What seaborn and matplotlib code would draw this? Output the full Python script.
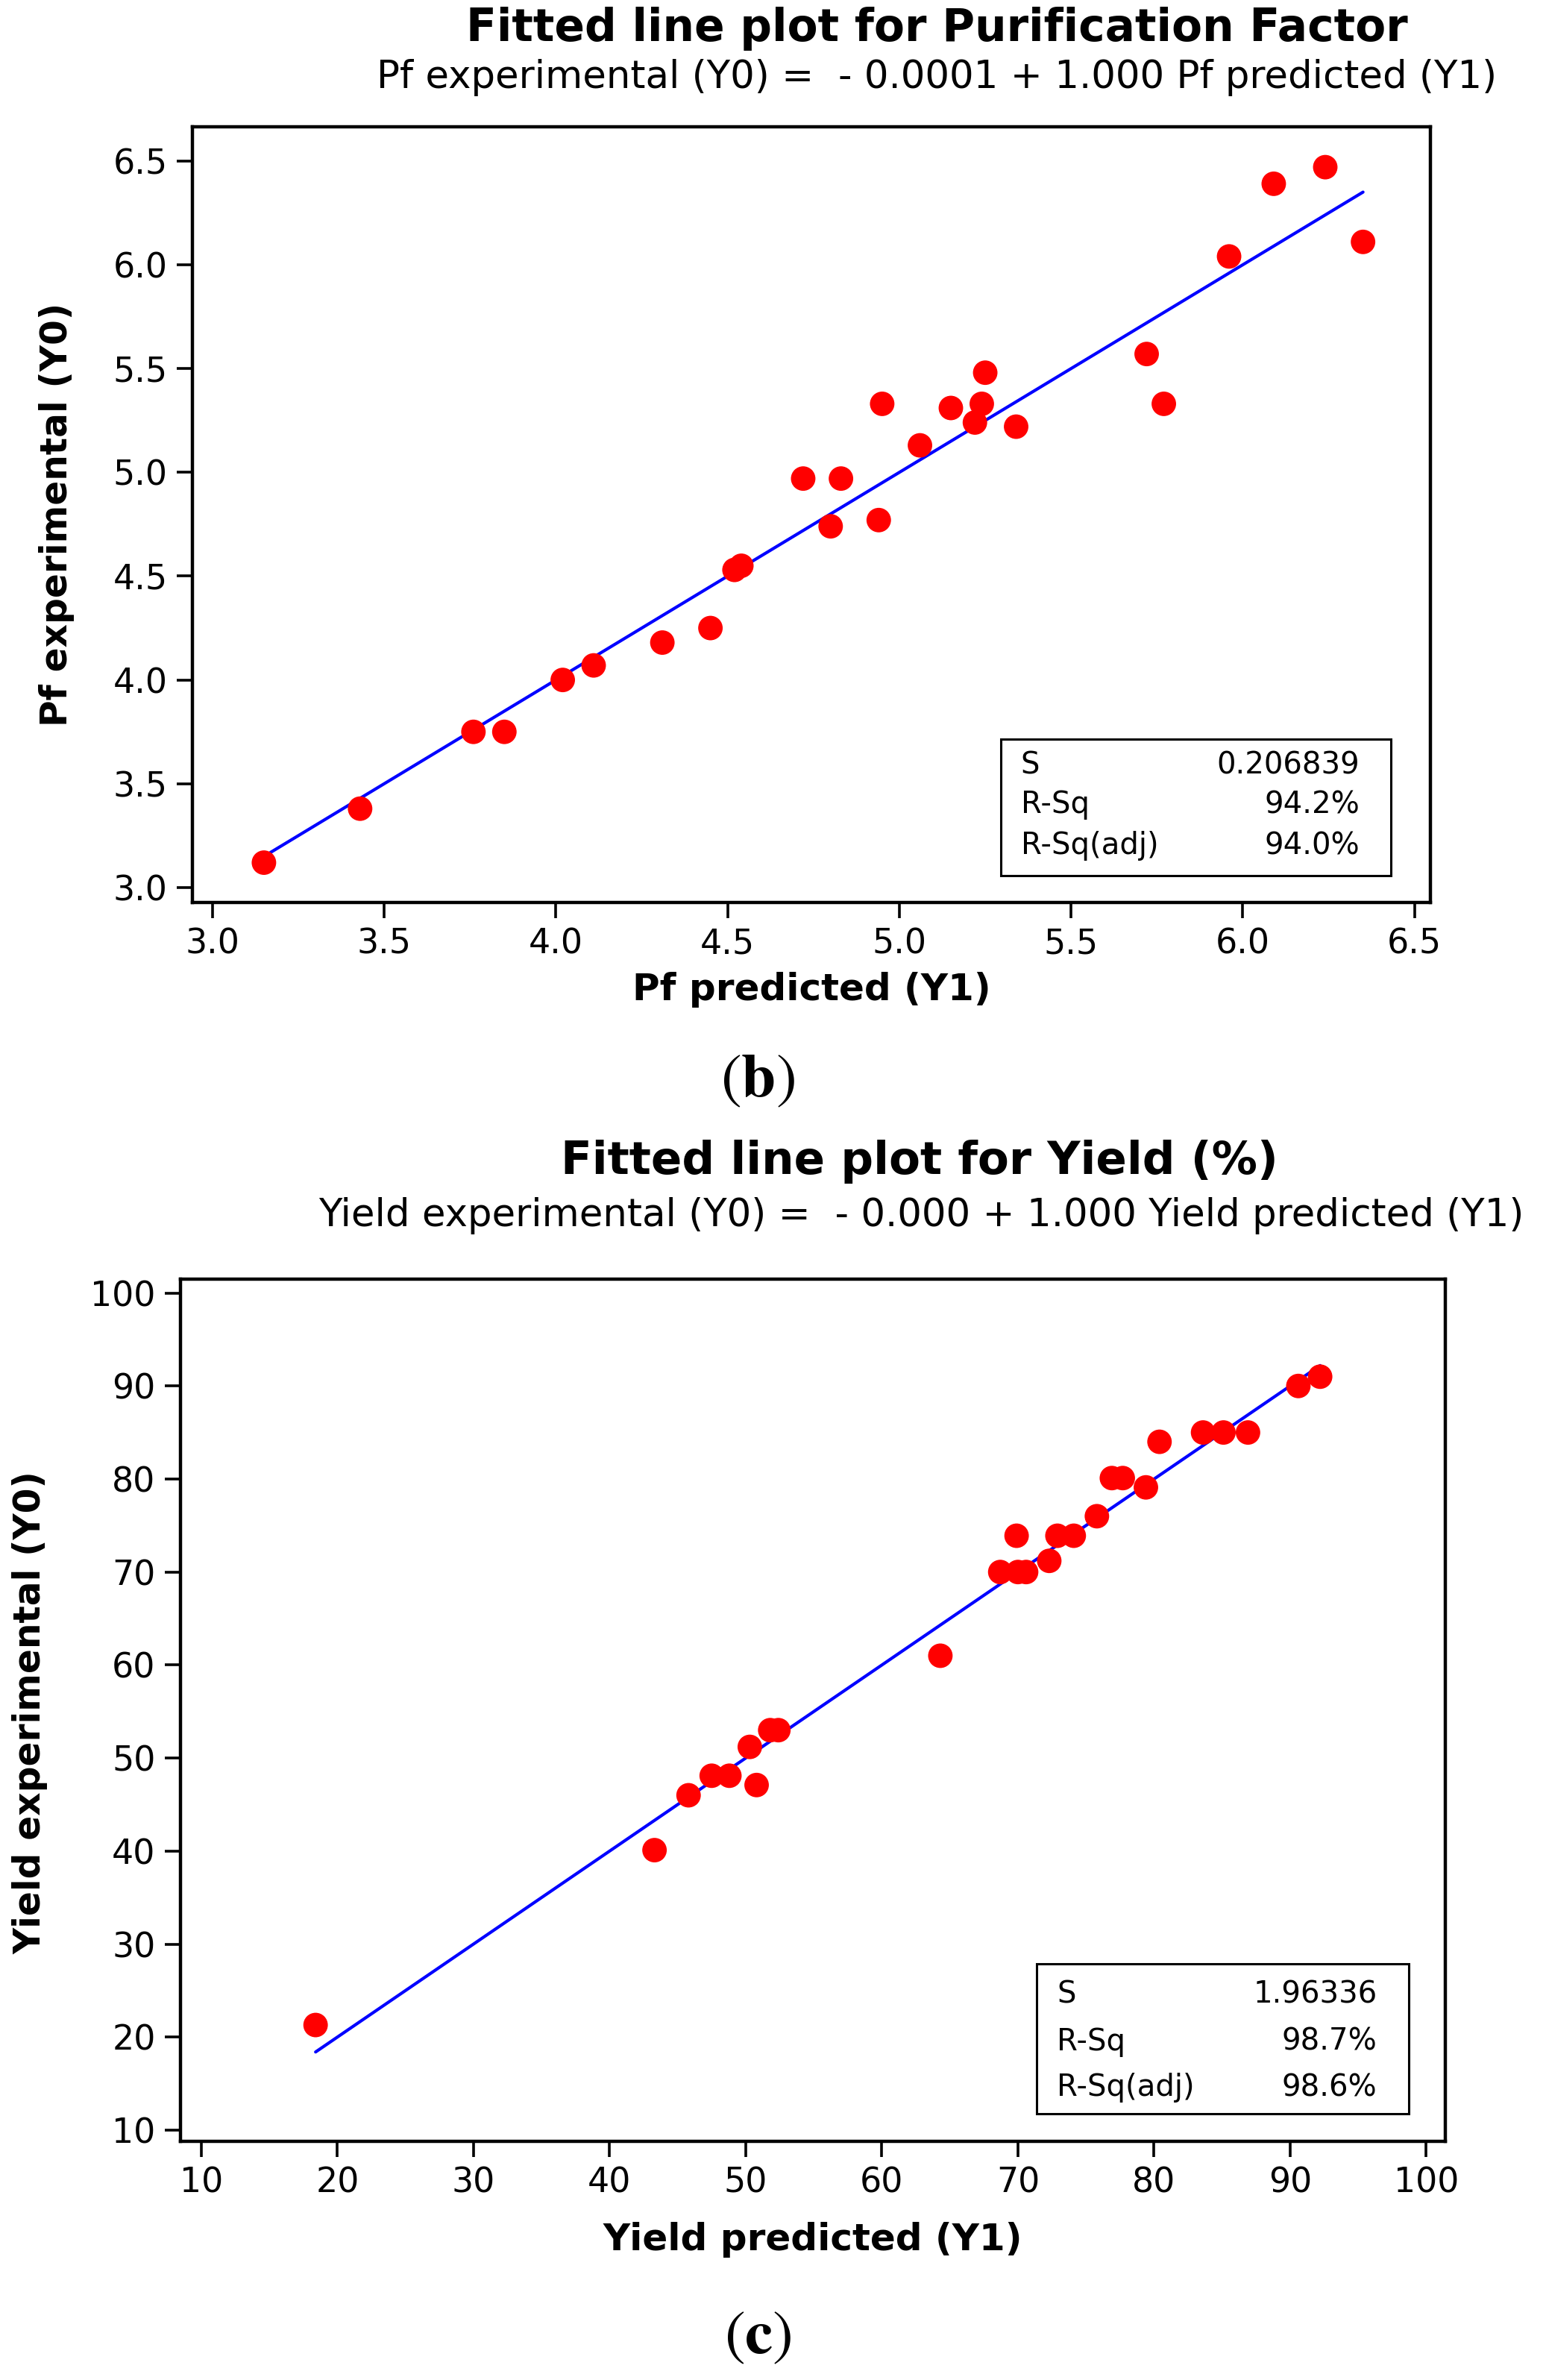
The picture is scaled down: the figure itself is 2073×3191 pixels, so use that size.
import seaborn as sns
import numpy as np
import pandas as pd
import matplotlib.pyplot as plt
from matplotlib.patches import Rectangle

# values
pf_pred = [3.15, 3.43, 3.76, 3.85, 4.02, 4.11, 4.31, 4.45, 4.52, 4.54, 4.72, 4.80, 4.83, 4.94,
           4.95, 5.06, 5.15, 5.22, 5.24, 5.25, 5.34, 5.72, 5.77, 5.96, 6.09, 6.24, 6.35]
pf_exp = [3.12, 3.38, 3.75, 3.75, 4.00, 4.07, 4.18, 4.25, 4.53, 4.55, 4.97, 4.74, 4.97, 4.77,
          5.33, 5.13, 5.31, 5.24, 5.33, 5.48, 5.22, 5.57, 5.33, 6.04, 6.39, 6.47, 6.11]
pf_b0, pf_b1 = -0.0001, 1.000
pf_stats = [("S", "0.206839"), ("R-Sq", "94.2%"), ("R-Sq(adj)", "94.0%")]

yield_pred = [18.4, 43.3, 45.8, 47.5, 48.8, 50.3, 50.8, 51.8, 52.4, 64.3, 68.7, 70.0, 70.6, 69.9,
              72.3, 72.9, 74.1, 75.8, 76.9, 77.7, 79.4, 80.4, 83.6, 85.1, 86.9, 90.6, 92.2]
yield_exp = [21.3, 40.1, 46.0, 48.1, 48.1, 51.2, 47.1, 53.0, 53.0, 61.0, 70.0, 70.0, 70.0, 73.9,
             71.2, 73.9, 73.9, 76.0, 80.1, 80.1, 79.1, 84.0, 85.0, 85.0, 85.0, 90.0, 91.0]
yield_b0, yield_b1 = 0.000, 1.000
yield_stats = [("S", "1.96336"), ("R-Sq", "98.7%"), ("R-Sq(adj)", "98.6%")]

pf_ticks = [3.0, 3.5, 4.0, 4.5, 5.0, 5.5, 6.0, 6.5]
yield_ticks = [10, 20, 30, 40, 50, 60, 70, 80, 90, 100]

sns.set_style("ticks")
plt.rcParams['font.family'] = ['DejaVu Sans']
plt.rcParams['mathtext.fontset'] = 'stix'
plt.rcParams['text.color'] = 'black'
plt.rcParams['axes.labelcolor'] = 'black'
plt.rcParams['xtick.color'] = 'black'
plt.rcParams['ytick.color'] = 'black'

fig = plt.figure(figsize=(20.73, 31.91), dpi=100)
ax1 = fig.add_axes([0.1245, 0.6208, 0.8007, 0.3258])
ax2 = fig.add_axes([0.1167, 0.1003, 0.8182, 0.3623])


def draw(ax, xp, ye, b0, b1, stats, box, txt_x, rows):
    df = pd.DataFrame({"pred": xp, "exp": ye})
    xs = np.sort(np.array(xp))
    fit = pd.DataFrame({"x": xs, "y": b0 + b1 * xs})
    sns.lineplot(data=fit, x="x", y="y", ax=ax, color="#0000FF", lw=3, zorder=2)
    sns.scatterplot(data=df, x="pred", y="exp", ax=ax, color="#FF0000", s=560,
                    edgecolor="none", zorder=3)
    for sp in ax.spines.values():
        sp.set_linewidth(3.2)
        sp.set_color("black")
    ax.tick_params(length=15, width=2.6, labelsize=33, pad=9, direction="out", colors="black")
    ax.add_patch(Rectangle((box[0], box[1]), box[2] - box[0], box[3] - box[1],
                           transform=ax.transAxes, fill=False, lw=2.2, ec="black", zorder=4))
    for (name, val), ry in zip(stats, rows):
        ax.text(txt_x[0], ry, name, transform=ax.transAxes, fontsize=29, va="center", ha="left")
        ax.text(txt_x[1], ry, val, transform=ax.transAxes, fontsize=29, va="center", ha="right")


draw(ax1, pf_pred, pf_exp, pf_b0, pf_b1, pf_stats,
     (0.653, 0.035, 0.968, 0.211), (0.669, 0.943), (0.177, 0.126, 0.073))
ax1.set_xlim(2.942, 6.546)
ax1.set_ylim(2.928, 6.663)
ax1.set_xticks(pf_ticks)
ax1.set_yticks(pf_ticks)
ax1.set_xticklabels([f"{t:.1f}" for t in pf_ticks])
ax1.set_yticklabels([f"{t:.1f}" for t in pf_ticks])
ax1.set_xlabel("Pf predicted (Y1)", fontsize=36, fontweight="bold")
ax1.set_ylabel("Pf experimental (Y0)", fontsize=35, fontweight="bold")
ax1.xaxis.set_label_coords(0.5, -0.1126)
ax1.xaxis.label.set_va("center")
ax1.yaxis.set_label_coords(-0.110, 0.5)
ax1.yaxis.label.set_va("center")

draw(ax2, yield_pred, yield_exp, yield_b0, yield_b1, yield_stats,
     (0.677, 0.032, 0.971, 0.206), (0.693, 0.946), (0.170, 0.115, 0.062))
ax2.set_xlim(8.47, 101.4)
ax2.set_ylim(8.8, 101.5)
ax2.set_xticks(yield_ticks)
ax2.set_yticks(yield_ticks)
ax2.set_xlabel("Yield predicted (Y1)", fontsize=36, fontweight="bold")
ax2.set_ylabel("Yield experimental (Y0)", fontsize=35, fontweight="bold")
ax2.xaxis.set_label_coords(0.5, -0.114)
ax2.xaxis.label.set_va("center")
ax2.yaxis.set_label_coords(-0.1185, 0.497)
ax2.yaxis.label.set_va("center")

fig.text(0.606, 0.9878, "Fitted line plot for Purification Factor", fontsize=43,
         fontweight="bold", ha="center", va="center")
fig.text(0.606, 0.9674, "Pf experimental (Y0) =  - 0.0001 + 1.000 Pf predicted (Y1)",
         fontsize=37, ha="center", va="center")
fig.text(0.595, 0.512, "Fitted line plot for Yield (%)", fontsize=44,
         fontweight="bold", ha="center", va="center")
fig.text(0.596, 0.4892, "Yield experimental (Y0) =  - 0.000 + 1.000 Yield predicted (Y1)",
         fontsize=37, ha="center", va="center")
fig.text(0.490, 0.5465, r"$(\mathbf{b})$", fontsize=60, ha="center", va="center")
fig.text(0.490, 0.0185, r"$(\mathbf{c})$", fontsize=60, ha="center", va="center")

fig.savefig("out.png", dpi=100, facecolor="white")
